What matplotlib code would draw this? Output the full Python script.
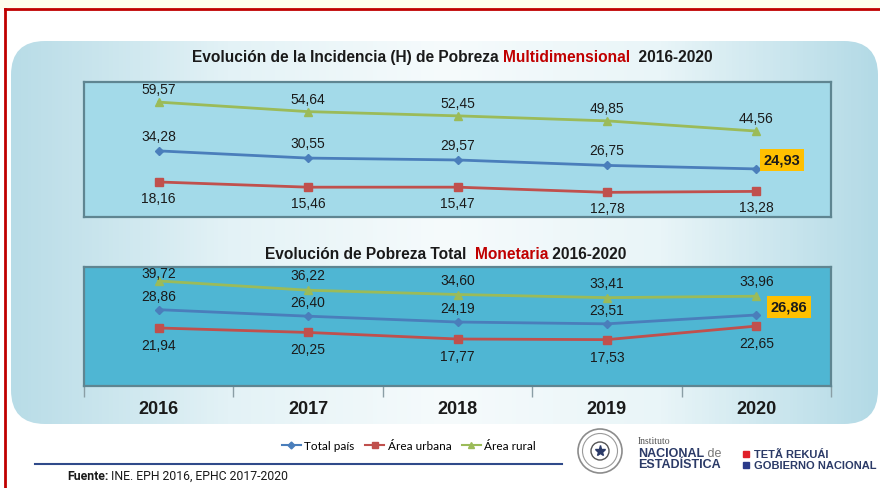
import numpy as np
import matplotlib
matplotlib.use("Agg")
import matplotlib.pyplot as plt
from matplotlib.patches import FancyBboxPatch, Rectangle, Circle
from matplotlib.colors import LinearSegmentedColormap
from matplotlib.lines import Line2D

# data
years = ["2016", "2017", "2018", "2019", "2020"]

multi_total = [34.28, 30.55, 29.57, 26.75, 24.93]
multi_urbana = [18.16, 15.46, 15.47, 12.78, 13.28]
multi_rural = [59.57, 54.64, 52.45, 49.85, 44.56]

mon_total = [28.86, 26.40, 24.19, 23.51, 26.86]
mon_urbana = [21.94, 20.25, 17.77, 17.53, 22.65]
mon_rural = [39.72, 36.22, 34.60, 33.41, 33.96]

series_names = ["Total país", "Área urbana", "Área rural"]

# styling
W, H = 880, 489
C_TOTAL, C_URB, C_RUR = "#4A7EBB", "#C0504D", "#9BBB59"
TXT = "#1a1a1a"
plt.rcParams["font.family"] = ["Liberation Sans", "DejaVu Sans"]

fig = plt.figure(figsize=(W / 100, H / 100), dpi=100)
fig.patch.set_facecolor("white")

# background layer in pixel coords (y down)
bg = fig.add_axes([0, 0, 1, 1])
bg.set_xlim(0, W)
bg.set_ylim(H, 0)
bg.axis("off")
bg.set_zorder(0)

bg.add_patch(Rectangle((0, 0), W, 9.5, color="#FEFDEB", lw=0))
bg.plot([5, W], [10, 10], color="#C00000", lw=2)
bg.plot([5, 5], [10, H], color="#C00000", lw=2)

panel = FancyBboxPatch((11, 42), 867, 383, boxstyle="round,pad=0,rounding_size=34",
                       fc="none", ec="none")
bg.add_patch(panel)
cmap = LinearSegmentedColormap.from_list("pan", ["#B8DCE7", "#E3F2F6", "#F6FBFC", "#E9F5F8", "#B3DAE6"])
grad = bg.imshow(np.linspace(0, 1, 256)[None, :], cmap=cmap, aspect="auto",
                 extent=(11, 878, 425, 42), zorder=1)
grad.set_clip_path(panel)


def fmt(v):
    return f"{v:.2f}".replace(".", ",")


def parts_text(x, y, parts, size, align="center", family=None):
    # draw a row of differently coloured text pieces on one baseline
    r = fig.canvas.get_renderer()
    objs, widths = [], []
    for s, c, wt in parts:
        kw = {} if family is None else {"family": family}
        t = fig.text(0, 0, s, color=c, fontsize=size, fontweight=wt, ha="left", va="baseline", **kw)
        objs.append(t)
        widths.append(t.get_window_extent(r).width)
    x0 = x - sum(widths) / 2 if align == "center" else x
    for t, w in zip(objs, widths):
        t.set_position((x0 / W, 1 - y / H))
        x0 += w


def make_chart(box, ylim, face, total, urbana, rural, offs):
    l, t, r, b = box
    ax = fig.add_axes([l / W, 1 - b / H, (r - l) / W, (b - t) / H])
    ax.set_zorder(2)
    ax.set_facecolor(face)
    ax.set_xlim(-0.5, 4.5)
    ax.set_ylim(*ylim)
    for sp in ax.spines.values():
        sp.set_color("#5f8591")
        sp.set_linewidth(1.6)
    ax.set_yticks([])
    x = np.arange(len(years))
    ax.plot(x, rural, color=C_RUR, marker="^", ms=6, lw=2, clip_on=False)
    ax.plot(x, total, color=C_TOTAL, marker="D", ms=4.5, lw=2, clip_on=False)
    ax.plot(x, urbana, color=C_URB, marker="s", ms=6, lw=2, clip_on=False)
    for vals, dy in zip([rural, total, urbana], offs):
        for i, v in enumerate(vals):
            if vals is total and i == len(vals) - 1:
                continue
            d = dy[i] if isinstance(dy, list) else dy
            ax.annotate(fmt(v), (i, v), xytext=(0, -d), textcoords="offset pixels",
                        ha="center", va="center", fontsize=10, color=TXT, annotation_clip=False)
    return ax


ax1 = make_chart((84, 83, 831, 218), (0, 70), "#A3DAE9",
                 multi_total, multi_urbana, multi_rural, [-13, -15, 16])
ax1.set_xticks([])
ax1.annotate(fmt(multi_total[-1]), (4, multi_total[-1]), xytext=(26, 9), textcoords="offset pixels",
             ha="center", va="center", fontsize=10.5, fontweight="bold", color=TXT,
             bbox=dict(boxstyle="square,pad=0.25", fc="#FFC000", ec="none"), annotation_clip=False)

ax2 = make_chart((84, 268, 831, 387), (0, 45), "#4FB6D3",
                 mon_total, mon_urbana, mon_rural, [[-8, -15, -15, -15, -15], -14, 17])
ax2.set_xticks(np.arange(-0.5, 5, 1))
ax2.set_xticklabels([])
ax2.tick_params(axis="x", length=8, color="#8a9ea5", width=1)
ax2.annotate(fmt(mon_total[-1]), (4, mon_total[-1]), xytext=(33, 8), textcoords="offset pixels",
             ha="center", va="center", fontsize=10.5, fontweight="bold", color=TXT,
             bbox=dict(boxstyle="square,pad=0.25", fc="#FFC000", ec="none"), annotation_clip=False)
for i, yr in enumerate(years):
    ax2.annotate(yr, (i, 0), xytext=(0, -23), textcoords="offset pixels", ha="center", va="center",
                 fontsize=13, fontweight="bold", color=TXT, annotation_clip=False)

# titles
parts_text(452, 62, [("Evolución de la Incidencia (H) de Pobreza ", TXT, "bold"),
                     ("Multidimensional", "#C00000", "bold"),
                     ("  2016-2020", TXT, "bold")], 11.2)
parts_text(446, 259, [("Evolución de Pobreza Total  ", TXT, "bold"),
                      ("Monetaria", "#C00000", "bold"),
                      (" 2016-2020", TXT, "bold")], 11.2)

# legend
handles = [Line2D([], [], color=C_TOTAL, marker="D", ms=3.5, lw=1.5),
           Line2D([], [], color=C_URB, marker="s", ms=4, lw=1.5),
           Line2D([], [], color=C_RUR, marker="^", ms=4, lw=1.5)]
fig.legend(handles, series_names, loc="center", bbox_to_anchor=(409 / W, 1 - 447 / H), ncol=3,
           frameon=False, handlelength=1.6, handletextpad=0.3, columnspacing=0.9,
           prop={"family": "Lato", "size": 8.5})

# footer
bg.plot([35, 562], [465, 465], color="#2F4A8A", lw=1.5)
parts_text(67, 480, [("Fuente:", TXT, "bold"), (" INE. EPH 2016, EPHC 2017-2020", TXT, "normal")],
           8.8, align="left", family="Roboto")

# logos
bg.add_patch(Circle((600, 452), 22, fill=False, ec="#8c8c8c", lw=1.2, zorder=3))
bg.add_patch(Circle((600, 452), 17.5, fill=False, ec="#9a9a9a", lw=0.8, zorder=3))
bg.add_patch(Circle((600, 452), 9, fill=False, ec="#555555", lw=1, zorder=3))
bg.plot([600], [452], marker="*", ms=8, color="#2B3A67", zorder=4)
bg.text(638, 441, "Instituto", fontsize=7, family="Liberation Serif", color="#555555", va="center")
parts_text(638, 457, [("NACIONAL", "#2B3A67", "bold"), (" de", "#777777", "normal")], 9, align="left")
bg.text(638, 465, "ESTADÍSTICA", fontsize=9, fontweight="bold", color="#2B3A67", va="center")
bg.plot([746], [455], marker="s", ms=4, color="#E0202A")
bg.plot([746], [466], marker="s", ms=4, color="#2B3A8A")
bg.text(754, 455, "TETÃ REKUÁI", fontsize=8, fontweight="bold", color="#2B3A67", va="center")
bg.text(754, 466, "GOBIERNO NACIONAL", fontsize=8, fontweight="bold", color="#2B3A67", va="center")

fig.savefig("out.png", dpi=100)
